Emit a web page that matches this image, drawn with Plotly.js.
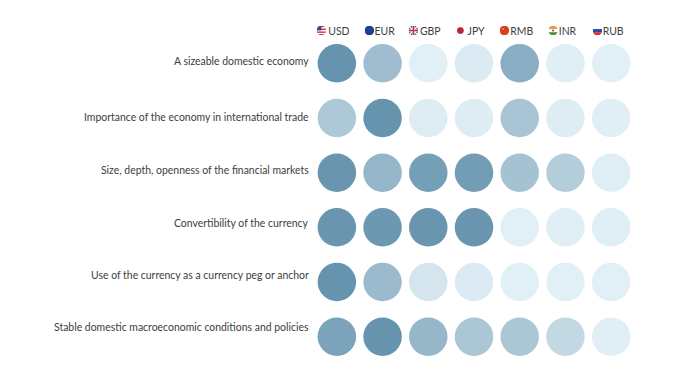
<!DOCTYPE html>
<html><head><meta charset="utf-8">
<script src="https://cdn.plot.ly/plotly-3.0.1.min.js"></script>
<style>html,body{margin:0;padding:0;background:#fff}</style></head>
<body><div id="chart" style="width:700px;height:375px"></div>
<script>
const currencies = ['USD','EUR','GBP','JPY','RMB','INR','RUB'];
const factors = ['A sizeable domestic economy','Importance of the economy in international trade','Size, depth, openness of the financial markets','Convertibility of the currency','Use of the currency as a currency peg or anchor','Stable domestic macroeconomic conditions and policies'];
const row1 = [1.00,0.55,0.02,0.06,0.72,0.03,0.02];
const row2 = [0.44,1.00,0.05,0.05,0.47,0.05,0.03];
const row3 = [0.98,0.63,0.88,0.90,0.50,0.38,0.04];
const row4 = [0.98,0.95,0.98,0.98,0.02,0.03,0.03];
const row5 = [1.00,0.58,0.13,0.06,0.02,0.02,0.02];
const row6 = [0.83,1.00,0.62,0.45,0.45,0.27,0.03];
const rows = [row1,row2,row3,row4,row5,row6];

const W=700,H=375,L=313.6,R=66.4,T=36.2,B=10.9,PW=W-L-R,PH=H-T-B;
const labelY=[61,117,170,223,275,327];
const flagX=[321,369,413,460,504,552.7,597], flagY=30.7, flagD=9.6;
const svg=(body)=>'data:image/svg+xml;utf8,'+encodeURIComponent('<svg xmlns="http://www.w3.org/2000/svg" width="40" height="40" viewBox="0 0 40 40"><defs><clipPath id="c"><circle cx="20" cy="20" r="20"/></clipPath></defs><g clip-path="url(#c)">'+body+'</g></svg>');
const flags=[
 svg('<rect width="40" height="40" fill="#fff"/><rect y="0" width="40" height="6" fill="#c8394a"/><rect y="12" width="40" height="6" fill="#c8394a"/><rect y="24" width="40" height="6" fill="#c8394a"/><rect y="35" width="40" height="5" fill="#c8394a"/><rect width="20" height="20" fill="#3c4a80"/>'),
 svg('<rect width="40" height="40" fill="#1f3f96"/>'),
 svg('<rect width="40" height="40" fill="#2f4a8c"/><path d="M0 0L40 40M40 0L0 40" stroke="#fff" stroke-width="6"/><rect x="15" width="10" height="40" fill="#fff"/><rect y="15" width="40" height="10" fill="#fff"/><rect x="17" width="6" height="40" fill="#cf2b3c"/><rect y="17" width="40" height="6" fill="#cf2b3c"/>'),
 svg('<circle cx="20" cy="20" r="14" fill="#b8243f"/>'),
 svg('<rect width="40" height="40" fill="#d8401f"/><circle cx="14" cy="14" r="4" fill="#e8a03a"/>'),
 svg('<rect width="40" height="14" fill="#f0993a"/><rect y="14" width="40" height="13" fill="#fff"/><rect y="27" width="40" height="13" fill="#3f9a3c"/><circle cx="20" cy="20" r="4" fill="#3a4a90"/>'),
 svg('<rect width="40" height="14" fill="#fff"/><rect y="14" width="40" height="13" fill="#2b4aa0"/><rect y="27" width="40" height="13" fill="#d6303c"/>')
];

const x=[],y=[],c=[];
rows.forEach((r,j)=>r.forEach((v,i)=>{x.push(currencies[i]);y.push(factors[j]);c.push(v);}));

const trace={type:'scatter',mode:'markers',x,y,hoverinfo:'skip',
 marker:{size:38.5,color:c,cmin:0,cmax:1,colorscale:[[0,'#e4f1f7'],[1,'#6693ae']],line:{width:0},opacity:1}};

const layout={width:W,height:H,margin:{l:L,r:R,t:T,b:B},paper_bgcolor:'#fff',plot_bgcolor:'#fff',showlegend:false,
 font:{family:'Lato, sans-serif',color:'#3d3d3d'},
 xaxis:{type:'category',categoryorder:'array',categoryarray:currencies,range:[-0.5,6.5],side:'top',showgrid:false,zeroline:false,showline:false,ticks:'',
   ticklabelshift:2,ticklabelstandoff:-2,tickvals:currencies,ticktext:currencies,tickfont:{size:10.45,color:'#3d3d3d',family:'Lato, sans-serif'}},
 yaxis:{type:'category',categoryorder:'array',categoryarray:factors,range:[5.5,-0.5],showgrid:false,zeroline:false,showline:false,ticks:'',showticklabels:false},
 annotations:factors.map((t,j)=>({xref:'paper',yref:'paper',x:(310.5-L)/PW,y:1-(labelY[j]-T)/PH,text:t,showarrow:false,xanchor:'right',yanchor:'middle',font:{size:10.45,color:'#3d3d3d',family:'Lato, sans-serif'}})),
 images:flags.map((s,i)=>({source:s,xref:'paper',yref:'paper',x:(flagX[i]-L)/PW,y:1-(flagY-T)/PH,sizex:flagD/PW,sizey:flagD/PH,xanchor:'center',yanchor:'middle',sizing:'contain',layer:'above'}))
};
Plotly.newPlot('chart',[trace],layout,{displayModeBar:false,staticPlot:true});
</script></body></html>
